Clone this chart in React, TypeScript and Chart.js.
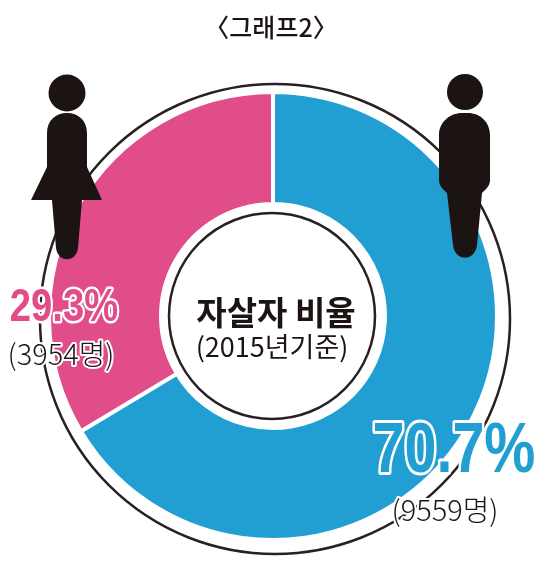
import React, { useEffect, useRef } from "react";
import { Chart, registerables } from "chart.js";
Chart.register(...registerables);

const categories = ["남성", "여성"];
// Slice sizes as drawn in the picture (the printed labels below say 70.7 / 29.3)
const drawnShares = [66.4, 33.6];
const counts = ["(9559명)", "(3954명)"];
const shareLabels = ["70.7%", "29.3%"];
const colors = ["#229fd2", "#e04d88"];
const title = "〈그래프2〉";
const centerLines = ["자살자 비율", "(2015년기준)"];

const FONT = '"Noto Sans CJK KR", "Noto Sans", sans-serif';
const INK = "#1c1412";

function woman(ctx: CanvasRenderingContext2D) {
  ctx.fillStyle = INK;
  ctx.beginPath();
  ctx.arc(67, 93, 18.5, 0, Math.PI * 2);
  ctx.fill();
  ctx.beginPath();
  ctx.moveTo(47, 167);
  ctx.lineTo(47, 133);
  ctx.bezierCurveTo(47, 120, 56, 113, 67, 113);
  ctx.bezierCurveTo(78, 113, 87, 120, 87, 133);
  ctx.lineTo(87, 167);
  ctx.lineTo(102, 200);
  ctx.lineTo(82, 200);
  ctx.lineTo(78, 248);
  ctx.bezierCurveTo(76, 263, 58, 263, 56, 248);
  ctx.lineTo(52, 200);
  ctx.lineTo(31, 200);
  ctx.closePath();
  ctx.fill();
}

function man(ctx: CanvasRenderingContext2D) {
  ctx.fillStyle = INK;
  ctx.beginPath();
  ctx.arc(465, 92, 18, 0, Math.PI * 2);
  ctx.fill();
  ctx.beginPath();
  ctx.moveTo(439, 180);
  ctx.lineTo(439, 135);
  ctx.bezierCurveTo(439, 122, 450, 113, 462, 113);
  ctx.lineTo(468, 113);
  ctx.bezierCurveTo(480, 113, 490, 122, 490, 135);
  ctx.lineTo(490, 180);
  ctx.bezierCurveTo(490, 186, 486, 189, 482, 193);
  ctx.lineTo(477, 245);
  ctx.bezierCurveTo(475, 262, 455, 262, 453, 245);
  ctx.lineTo(447, 193);
  ctx.bezierCurveTo(443, 189, 439, 186, 439, 180);
  ctx.closePath();
  ctx.fill();
}

export default function App() {
  const ref = useRef<HTMLCanvasElement>(null);
  useEffect(() => {
    const overlay = {
      id: "overlay",
      afterDraw(chart: any) {
        const ctx = chart.ctx as CanvasRenderingContext2D;
        const arc = chart.getDatasetMeta(0).data[0];
        const cx = arc.x, cy = arc.y;
        ctx.save();
        ctx.strokeStyle = "#2a2022";
        ctx.lineWidth = 2.5;
        ctx.beginPath();
        ctx.arc(cx + 2, cy + 3, arc.outerRadius + 11, 0, Math.PI * 2);
        ctx.stroke();
        ctx.beginPath();
        ctx.arc(cx - 1, cy, arc.innerRadius - 9, 0, Math.PI * 2);
        ctx.stroke();
        woman(ctx);
        man(ctx);
        ctx.textAlign = "center";
        ctx.textBaseline = "middle";
        ctx.fillStyle = INK;
        ctx.font = `500 25px ${FONT}`;
        ctx.fillText(title, 271, 27);
        ctx.font = `700 33px ${FONT}`;
        ctx.fillText(centerLines[0], 276, 312);
        ctx.font = `400 27px ${FONT}`;
        ctx.fillText(centerLines[1], 272, 347);
        const big = (text: string, x: number, y: number, size: number, sx: number, color: string, lw: number) => {
          ctx.save();
          ctx.translate(x, y);
          ctx.scale(sx, 1);
          ctx.font = `700 ${size}px "Liberation Sans", Arial, sans-serif`;
          ctx.lineJoin = "round";
          ctx.lineWidth = lw;
          ctx.strokeStyle = "#ffffff";
          ctx.strokeText(text, 0, 0);
          ctx.fillStyle = color;
          ctx.fillText(text, 0, 0);
          ctx.restore();
        };
        big(shareLabels[1], 64, 308, 46, 0.83, colors[1], 5);
        big(shareLabels[0], 454, 453, 70, 0.82, colors[0], 6);
        const small = (text: string, x: number, y: number) => {
          ctx.font = `300 29px ${FONT}`;
          ctx.lineJoin = "round";
          ctx.lineWidth = 4;
          ctx.strokeStyle = "#ffffff";
          ctx.strokeText(text, x, y);
          ctx.fillStyle = "#1c1618";
          ctx.fillText(text, x, y);
        };
        small(counts[1], 61, 354);
        small(counts[0], 445, 510);
        ctx.restore();
      },
    };
    const chart = new Chart(ref.current!, {
      type: "doughnut",
      data: {
        labels: categories,
        datasets: [{ data: drawnShares, backgroundColor: colors, borderColor: "#ffffff", borderWidth: 4 }],
      },
      options: {
        responsive: false,
        animation: false,
        cutout: "50%",
        layout: { padding: { left: 47, right: 51, top: 90, bottom: 29 } },
        plugins: { legend: { display: false }, tooltip: { enabled: false } },
      },
      plugins: [overlay],
    });
    return () => chart.destroy();
  }, []);
  return <canvas ref={ref} width={550} height={571} style={{ position: "absolute", left: 0, top: 0 }} />;
}
